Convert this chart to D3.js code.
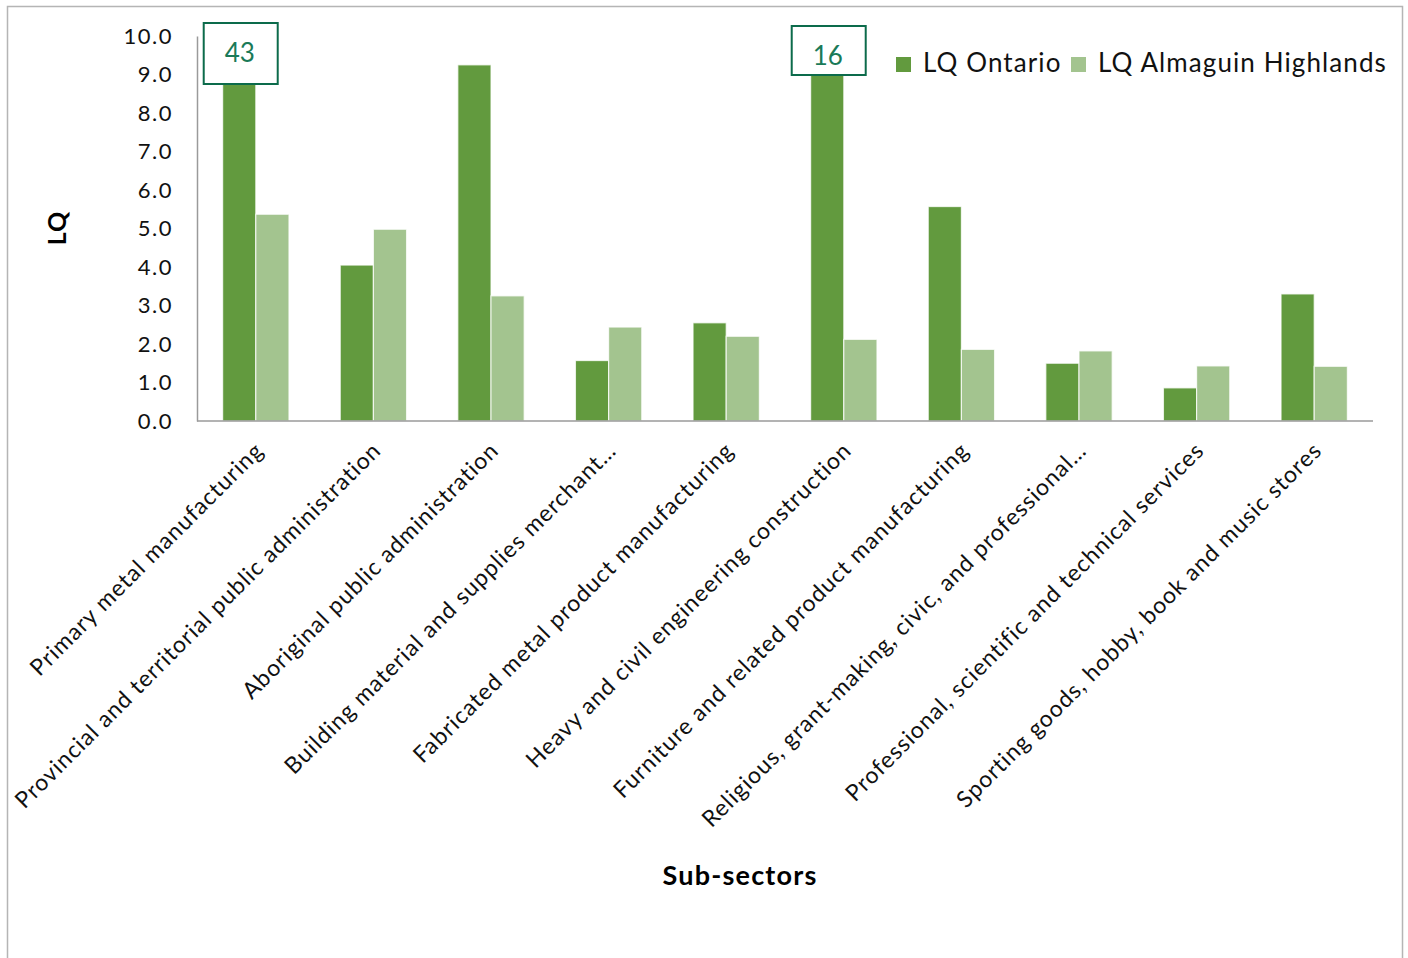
<!DOCTYPE html>
<html>
<head>
<meta charset="utf-8">
<script src="https://cdn.jsdelivr.net/npm/d3@7"></script>
<style>
  html, body { margin: 0; padding: 0; background: #fff; }
  svg { display: block; font-family: Lato, "Open Sans", sans-serif; }
</style>
</head>
<body>
<svg id="chart" width="1408" height="958"></svg>
<script>
// Sub-sectors and location quotients
const categories = [
  "Primary metal manufacturing",
  "Provincial and territorial public administration",
  "Aboriginal public administration",
  "Building material and supplies merchant\u2026",
  "Fabricated metal product manufacturing",
  "Heavy and civil engineering construction",
  "Furniture and related product manufacturing",
  "Religious, grant-making, civic, and professional\u2026",
  "Professional, scientific and technical services",
  "Sporting goods, hobby, book and music stores"
];
const seriesNames = ["LQ Ontario", "LQ Almaguin Highlands"];
const lqOntario = [43, 4.05, 9.25, 1.57, 2.55, 16, 5.57, 1.5, 0.86, 3.3];
const lqAlmaguin = [5.37, 4.98, 3.25, 2.44, 2.2, 2.12, 1.86, 1.82, 1.43, 1.42];
const yTicks = [0, 1, 2, 3, 4, 5, 6, 7, 8, 9, 10];

const colors = ["#629a3e", "#a3c48f"];

const svg = d3.select("#chart");

// outer frame
svg.append("rect")
  .attr("x", 7.5).attr("y", 6.5)
  .attr("width", 1395).attr("height", 1000)
  .attr("fill", "none").attr("stroke", "#b5b5b5").attr("stroke-width", 1.5);

const plot = { left: 197, right: 1373, top: 36, bottom: 421 };

const x = d3.scaleBand()
  .domain(categories)
  .range([plot.left, plot.right])
  .paddingInner(0.436)
  .paddingOuter(0.218);

const xs = d3.scaleBand()
  .domain(seriesNames)
  .range([0, x.bandwidth()]);

const y = d3.scaleLinear()
  .domain([0, 10])
  .range([plot.bottom, plot.top]);

// clip bars that run past the top of the axis
svg.append("defs").append("clipPath").attr("id", "plotClip")
  .append("rect")
  .attr("x", plot.left).attr("y", plot.top)
  .attr("width", plot.right - plot.left).attr("height", plot.bottom - plot.top);

const rows = categories.map((c, i) => ({
  cat: c,
  values: [
    { name: seriesNames[0], v: lqOntario[i] },
    { name: seriesNames[1], v: lqAlmaguin[i] }
  ]
}));

const barsG = svg.append("g").attr("clip-path", "url(#plotClip)");
barsG.selectAll("g.grp")
  .data(rows)
  .join("g")
  .attr("class", "grp")
  .attr("transform", d => `translate(${x(d.cat)},0)`)
  .selectAll("rect")
  .data(d => d.values)
  .join("rect")
  .attr("x", d => xs(d.name))
  .attr("width", xs.bandwidth())
  .attr("y", d => y(Math.min(d.v, 10)) - (d.v > 10 ? 2 : 0))
  .attr("height", d => plot.bottom - y(Math.min(d.v, 10)) + (d.v > 10 ? 2 : 0))
  .attr("fill", (d, i) => colors[i])
  .attr("stroke", "#ffffff")
  .attr("stroke-opacity", 0.75)
  .attr("stroke-width", 1.2);

// y axis
const yAxis = svg.append("g")
  .attr("transform", `translate(${plot.left},0)`)
  .call(d3.axisLeft(y).tickValues(yTicks).tickFormat(d3.format(".1f")).tickSize(0).tickPadding(24));
yAxis.select(".domain").attr("stroke", "#9a9a9a").attr("stroke-width", 1.5);
yAxis.selectAll("text")
  .attr("font-family", "Lato, sans-serif")
  .attr("font-size", 22)
  .attr("fill", "#111")
  .attr("letter-spacing", 1.5);

// x axis
const xAxis = svg.append("g")
  .attr("transform", `translate(0,${plot.bottom})`)
  .call(d3.axisBottom(x).tickSize(0).tickSizeOuter(0).tickFormat(d => d));
xAxis.select(".domain").attr("stroke", "#9a9a9a").attr("stroke-width", 1.5)
  .attr("d", `M${plot.left},0H${plot.right}`);
xAxis.selectAll(".tick text")
  .attr("font-family", "Lato, sans-serif")
  .attr("font-size", 23)
  .attr("letter-spacing", 1)
  .attr("fill", "#111")
  .attr("text-anchor", "end")
  .attr("dy", 0)
  .attr("y", 0)
  .attr("transform", "translate(9,31) rotate(-45)");

// axis titles
svg.append("text")
  .attr("transform", "translate(66,228) rotate(-90)")
  .attr("text-anchor", "middle")
  .attr("font-weight", "bold")
  .attr("font-size", 25)
  .attr("letter-spacing", 1)
  .attr("fill", "#000")
  .text("LQ");

svg.append("text")
  .attr("x", 740).attr("y", 885)
  .attr("text-anchor", "middle")
  .attr("font-weight", "bold")
  .attr("font-size", 27)
  .attr("letter-spacing", 1.2)
  .attr("fill", "#000")
  .text("Sub-sectors");

// callouts for values beyond the axis range
const callouts = [
  { index: 0, top: 23, h: 61 },
  { index: 5, top: 26, h: 49 }
];
callouts.forEach(c => {
  const cx = x(categories[c.index]) + xs(seriesNames[0]) + xs.bandwidth() / 2 + 1.5;
  const w = 74;
  svg.append("rect")
    .attr("x", cx - w / 2).attr("y", c.top)
    .attr("width", w).attr("height", c.h)
    .attr("fill", "#fff")
    .attr("stroke", "#0c6b4b")
    .attr("stroke-width", 2);
  svg.append("text")
    .attr("x", cx - 1).attr("y", c.top + 30)
    .attr("dy", "0.35em")
    .attr("text-anchor", "middle")
    .attr("font-size", 26)
    .attr("fill", "#1a7a58")
    .text(d3.format("d")(lqOntario[c.index]));
});

// legend
const legendPos = [{ sx: 896, tx: 923 }, { sx: 1071, tx: 1098 }];
seriesNames.forEach((name, i) => {
  svg.append("rect")
    .attr("x", legendPos[i].sx).attr("y", 57)
    .attr("width", 15).attr("height", 15)
    .attr("fill", colors[i]);
  svg.append("text")
    .attr("x", legendPos[i].tx).attr("y", 72)
    .attr("font-size", 26)
    .attr("letter-spacing", 1.1)
    .attr("fill", "#111")
    .text(name);
});
</script>
</body>
</html>
